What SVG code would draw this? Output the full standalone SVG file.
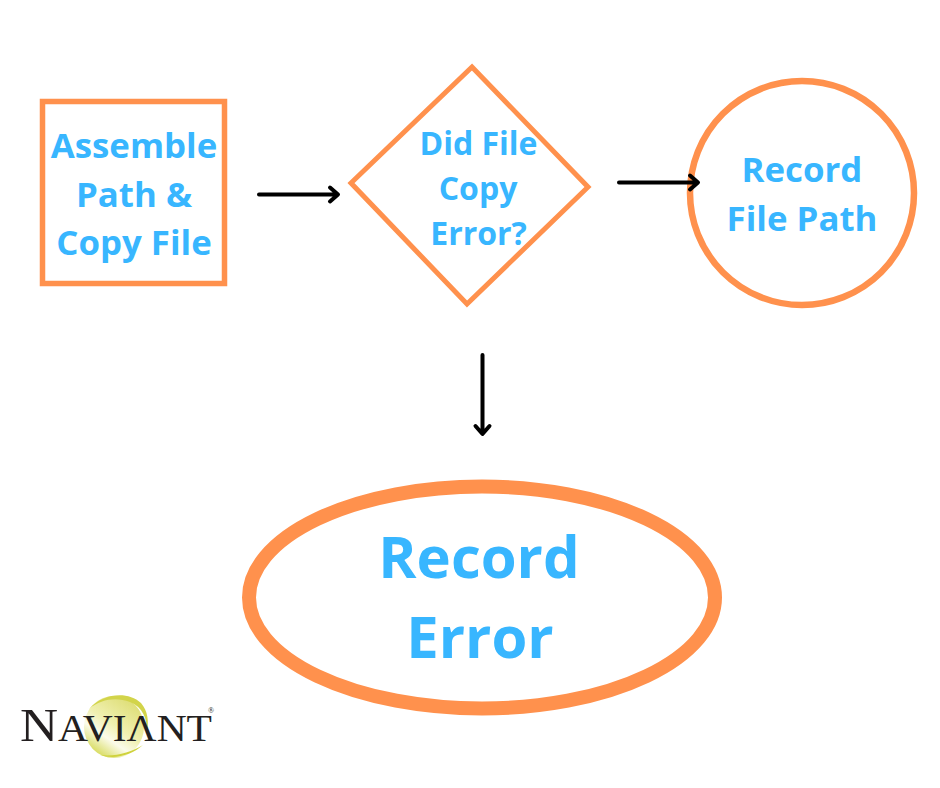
<svg xmlns="http://www.w3.org/2000/svg" width="940" height="788" viewBox="0 0 940 788">
<defs>
<style>
.o{fill:#fff;stroke:#ff914d}
.t{font-family:"Open Sans","Noto Sans",sans-serif;font-weight:700;fill:#38b6ff;text-anchor:middle}
.c{fill:none;stroke:#000;stroke-width:4;stroke-linecap:round;stroke-linejoin:round}
.l{font-family:"Liberation Serif",serif;fill:#231f20}
</style>
<linearGradient id="g" x1="0.85" y1="0.05" x2="0.25" y2="0.95"><stop offset="0" stop-color="#dcdc70"/><stop offset="0.5" stop-color="#f0f0b0"/><stop offset="0.72" stop-color="#fbfbea"/><stop offset="1" stop-color="#d8dc60"/></linearGradient>
</defs>
<rect width="940" height="788" fill="#fff"/>
<g id="node-assemble">
<rect class="o" x="42.500" y="101.500" width="182" height="182" stroke-width="5.500"/>
<text class="t" font-size="34.800" x="134" y="158">Assemble</text>
<text class="t" font-size="34.800" x="134" y="207">Path &amp;</text>
<text class="t" font-size="34.800" x="134" y="255">Copy File</text>
</g>
<g id="node-decision">
<polygon class="o" points="472,67 588,187 467,304 351,183" stroke-width="5"/>
<text class="t" font-size="32" x="478.500" y="155">Did File</text>
<text class="t" font-size="32" x="478" y="200">Copy</text>
<text class="t" font-size="32" x="478.500" y="245">Error?</text>
</g>
<g id="node-record-path">
<circle class="o" cx="802" cy="193" r="112" stroke-width="6.500"/>
<text class="t" font-size="34.800" x="802" y="182">Record</text>
<text class="t" font-size="34.800" x="802" y="231">File Path</text>
</g>
<g id="node-record-error">
<ellipse class="o" cx="482" cy="597.500" rx="233" ry="111" stroke-width="14"/>
<text class="t" font-size="58" x="479" y="578">Record</text>
<text class="t" font-size="58" x="480" y="658">Error</text>
</g>
<g id="connectors">
<path class="c" d="M259 194.500H337M330 187.500L338 194.500L330 201.500"/>
<path class="c" d="M619 182.500H697M690 175.500L698 182.500L690 189.500"/>
<path class="c" d="M482.500 355V433M475.500 426L482.500 434L489.500 426"/>
</g>
<g id="logo">
<ellipse cx="114" cy="727" rx="30" ry="31" fill="url(#g)"/>
<path d="M89 709C103 693 128 691 141 703C148 711 149 722 147 731C147 719 143 707 130 702C116 697 101 699 89 709Z" fill="#d2d44a"/>
<path d="M100 755C115 760 132 755 143 745C131 752 116 757 100 755Z" fill="#cfd23c"/>
<text class="l" x="20" y="741" font-size="47" textLength="192" lengthAdjust="spacingAndGlyphs">N<tspan font-size="37">AVIΛNT</tspan></text>
<text class="l" x="208" y="713" font-size="8">®</text>
</g>
</svg>
